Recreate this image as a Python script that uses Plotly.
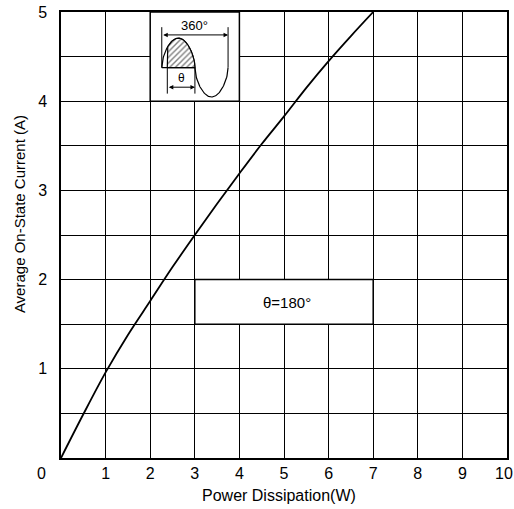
import numpy as np
import plotly.graph_objects as go

# ---- data ----
power_w = [0, 0.5, 1.0, 1.5, 2.0, 2.5, 3.0, 3.5, 4.0, 4.5, 5.0, 5.5, 6.0, 6.5, 7.0]
current_a = [0, 0.49, 0.96, 1.38, 1.76, 2.14, 2.50, 2.85, 3.19, 3.52, 3.83, 4.15, 4.45, 4.73, 5.0]

x_tickvals = list(range(0, 11))
x_ticktext = [""] + [str(v) for v in range(1, 10)] + [""]
y_tickvals = [v * 0.5 for v in range(0, 11)]
y_ticktext = ["" if (v % 2 or v == 0) else str(v // 2) for v in range(0, 11)]

label_angle = "θ=180°"
FONT = "Liberation Sans, Arial, sans-serif"

fig = go.Figure()

# main curve
fig.add_trace(go.Scatter(x=power_w, y=current_a, mode="lines",
                         line=dict(color="black", width=1.8, shape="spline", smoothing=1.0),
                         showlegend=False, hoverinfo="skip"))

# ---- inset waveform icon (schematic, in main data coords) ----
X0, XS = 2.2595, 66.3 / 360 / 44.6   # 0 deg position, units per degree
YB, AMP = 4.377, 0.33


def dx(deg):
    return X0 + deg * XS


deg = np.linspace(0, 360, 181)
s = np.sin(np.radians(deg))
wave = np.sign(s) * np.abs(s) ** 0.55
fig.add_trace(go.Scatter(x=dx(deg), y=YB + AMP * wave, mode="lines",
                         line=dict(color="black", width=1.2),
                         showlegend=False, hoverinfo="skip"))
# hatched region 30..180 deg
hd = np.linspace(30, 180, 60)
hs = np.sin(np.radians(hd))
hy = YB + AMP * np.abs(hs) ** 0.55
fig.add_trace(go.Scatter(x=np.concatenate([[dx(30)], dx(hd), [dx(180), dx(30)]]),
                         y=np.concatenate([[YB], hy, [YB, YB]]),
                         mode="lines", fill="toself", fillcolor="white",
                         fillpattern=dict(shape="/", size=4, solidity=0.35,
                                          fgcolor="black", bgcolor="white"),
                         line=dict(color="black", width=1.2),
                         showlegend=False, hoverinfo="skip"))

shapes = [
    dict(type="rect", xref="x", yref="y", x0=3, x1=7, y0=1.5, y1=2.0,
         fillcolor="white", line=dict(color="black", width=1.5), layer="between"),
    dict(type="rect", xref="x", yref="y", x0=2, x1=4, y0=4, y1=5,
         fillcolor="white", line=dict(color="black", width=1.5), layer="between"),
    dict(type="line", xref="x", yref="y", x0=dx(0), x1=dx(180), y0=YB, y1=YB,
         line=dict(color="black", width=1.2)),
    dict(type="line", xref="x", yref="y", x0=dx(0), x1=dx(0), y0=YB, y1=4.83,
         line=dict(color="black", width=1)),
    dict(type="line", xref="x", yref="y", x0=dx(360), x1=dx(360), y0=YB, y1=4.83,
         line=dict(color="black", width=1)),
    dict(type="line", xref="x", yref="y", x0=dx(30), x1=dx(30), y0=YB, y1=4.085,
         line=dict(color="black", width=1)),
    dict(type="line", xref="x", yref="y", x0=dx(180), x1=dx(180), y0=YB, y1=4.085,
         line=dict(color="black", width=1)),
]

annotations = [
    dict(x=dx(360), y=4.743, ax=dx(0), ay=4.743, xref="x", yref="y", axref="x", ayref="y",
         text="", showarrow=True, arrowhead=2, arrowside="end+start", arrowsize=0.9,
         arrowwidth=1, arrowcolor="black"),
    dict(x=dx(180), y=4.157, ax=dx(30), ay=4.157, xref="x", yref="y", axref="x", ayref="y",
         text="", showarrow=True, arrowhead=2, arrowside="end+start", arrowsize=0.9,
         arrowwidth=1, arrowcolor="black"),
    dict(x=dx(180), y=4.85, xref="x", yref="y", text="360°", showarrow=False,
         font=dict(family=FONT, size=13, color="black")),
    dict(x=dx(105), y=4.26, xref="x", yref="y", text="θ", showarrow=False,
         font=dict(family=FONT, size=12, color="black")),
    dict(x=5.07, y=1.745, xref="x", yref="y", text=label_angle, showarrow=False,
         font=dict(family=FONT, size=15, color="black")),
    dict(x=-0.043, y=-0.035, xref="paper", yref="paper", text="0", showarrow=False,
         xanchor="center", yanchor="middle",
         font=dict(family=FONT, size=16, color="black")),
    dict(x=0.9933, y=-0.035, xref="paper", yref="paper", text="10", showarrow=False,
         xanchor="center", yanchor="middle",
         font=dict(family=FONT, size=16, color="black")),
    dict(x=0.488, y=-0.083, xref="paper", yref="paper", text="Power Dissipation(W)",
         showarrow=False, xanchor="center", yanchor="middle",
         font=dict(family=FONT, size=16, color="black")),
    dict(x=-0.094, y=0.547, xref="paper", yref="paper", text="Average On-State Current (A)",
         showarrow=False, xanchor="center", yanchor="middle", textangle=-90,
         font=dict(family=FONT, size=15, color="black")),
]

fig.update_layout(
    width=514, height=509,
    margin=dict(l=61, r=7, t=12, b=51, autoexpand=False),
    paper_bgcolor="white", plot_bgcolor="white",
    shapes=shapes, annotations=annotations,
    font=dict(family=FONT, size=16, color="black"),
    xaxis=dict(range=[0, 10], tickvals=x_tickvals, ticktext=x_ticktext,
               showgrid=True, gridcolor="black", gridwidth=1.4,
               showline=True, linecolor="black", linewidth=1.5, mirror=True,
               ticks="", zeroline=False, ticklabelstandoff=0, automargin=False,
               tickfont=dict(family=FONT, size=16, color="black")),
    yaxis=dict(range=[0, 5], tickvals=y_tickvals, ticktext=y_ticktext,
               showgrid=True, gridcolor="black", gridwidth=1.4,
               showline=True, linecolor="black", linewidth=1.5, mirror=True,
               ticks="", zeroline=False, ticklabelstandoff=9, automargin=False,
               tickfont=dict(family=FONT, size=16, color="black")),
)

fig.write_html("out.html", config={"displayModeBar": False},
               post_script="document.body.style.margin='0';")
